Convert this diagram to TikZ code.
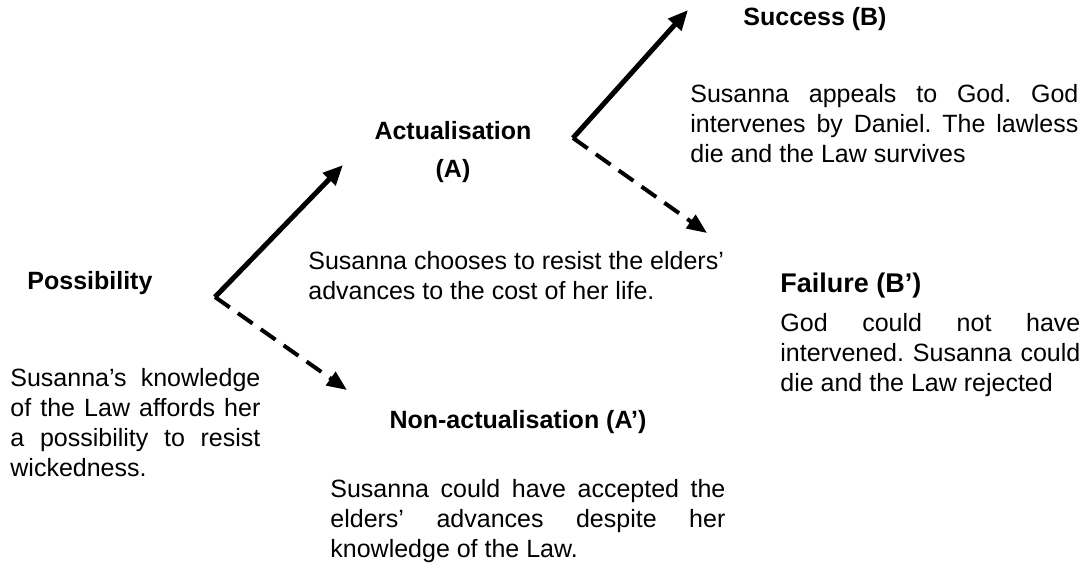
\documentclass[tikz,border=0pt]{standalone}
\usepackage{fontspec}
\setmainfont{Liberation Sans}
\usetikzlibrary{arrows.meta}
\frenchspacing

\begin{document}
\begin{tikzpicture}[x=0.5pt, y=-0.5pt,
    title/.style={font=\fontsize{12.5}{15}\selectfont\bfseries, inner sep=0pt},
    body/.style={font=\fontsize{12.5}{15}\selectfont, inner sep=0pt, align=justify, anchor=north west},
    chosen/.style={line width=2.5pt, -{Triangle[length=10pt, width=8.5pt]}},
    notchosen/.style={line width=2pt, dash pattern=on 9pt off 5pt, -{Triangle[length=10pt, width=8pt]}}]
  \useasboundingbox (0,0) rectangle (1092,569);

  % first step
  \node[title, anchor=base west] (poss) at (27,289) {Possibility};
  \node[body, text width=125pt] (posstext) at (10,368)
    {Susanna’s knowledge\linebreak of the Law affords her\linebreak a possibility to resist\linebreak wickedness.};
  \coordinate (pfork) at (215,297);
  \coordinate (atip) at (343,165);
  \coordinate (antip) at (347,390);
  \draw[chosen] (pfork) -- (atip);
  \draw[notchosen] (pfork) -- (antip);

  % second step
  \node[title, font=\fontsize{12.5}{19}\selectfont\bfseries, align=center, anchor=north] (act) at (453,121)
    {Actualisation\\(A)};
  \node[body, align=left] (acttext) at (308,251)
    {Susanna chooses to resist the elders’\\advances to the cost of her life.};
  \node[title] (nonact) at (518,422) {Non-actualisation (A’)};
  \node[body, text width=197.5pt] (nonacttext) at (330,479)
    {Susanna could have accepted the\linebreak elders’ advances despite her\linebreak knowledge of the Law.};
  \coordinate (afork) at (573,138);
  \coordinate (btip) at (688,10);
  \coordinate (bntip) at (707,233);
  \draw[chosen] (afork) -- (btip);
  \draw[notchosen] (afork) -- (bntip);

  % outcomes
  \node[title] (succ) at (815,19) {Success (B)};
  \node[body, text width=194pt] (succtext) at (690,84)
    {Susanna appeals to God. God\linebreak intervenes by Daniel. The lawless\linebreak die and the Law survives};
  \node[title, font=\fontsize{13.5}{16}\selectfont\bfseries, anchor=west] (fail) at (780,286) {Failure (B’)};
  \node[body, text width=150pt] (failtext) at (780,313)
    {God could not have\linebreak intervened. Susanna could\linebreak die and the Law rejected};
\end{tikzpicture}
\end{document}
